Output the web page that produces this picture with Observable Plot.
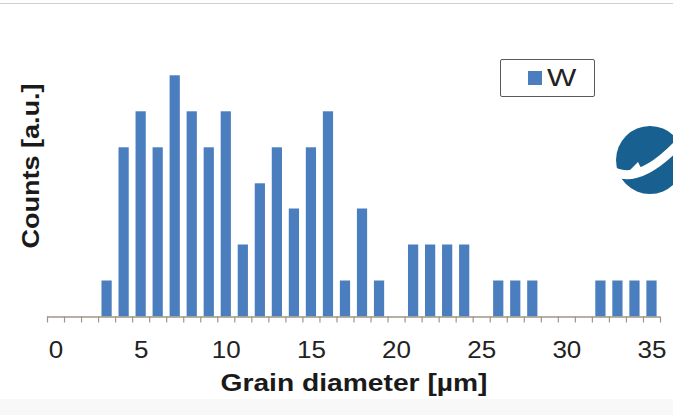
<!DOCTYPE html>
<html>
<head>
<meta charset="utf-8">
<script src="https://cdn.jsdelivr.net/npm/d3@7"></script>
<script src="https://cdn.jsdelivr.net/npm/@observablehq/plot@0.6"></script>
<style>
  html, body { margin: 0; padding: 0; background: #fff; }
  #wrap { position: relative; width: 673px; height: 415px; overflow: hidden; font-family: "Liberation Sans", Arial, sans-serif; }
  #wrap svg.plot { position: absolute; left: 0; top: 0; }
  #topline { position: absolute; left: 0; top: 3px; width: 673px; height: 1px; background: #cfcfcf; }
  #bottomband { position: absolute; left: 0; top: 399px; width: 673px; height: 16px; background: #f8f8f8; }
  #legend { position: absolute; left: 500px; top: 59px; width: 95px; height: 38px; border: 1.5px solid #5a5a5a; border-radius: 2px; background: #fff; box-sizing: border-box; }
  #legend .sw { position: absolute; left: 27px; top: 11px; width: 14px; height: 14px; background: #4a7ebf; }
  #legend .lb { position: absolute; left: 46px; top: 4px; font-size: 23px; line-height: 28px; color: #222; transform: scaleX(1.35); transform-origin: left center; }
  #logo { position: absolute; left: 600px; top: 110px; }
</style>
</head>
<body>
<div id="wrap">
  <div id="topline"></div>
  <div id="bottomband"></div>
  <div id="chart"></div>
  <div id="legend"><div class="sw"></div><div class="lb">W</div></div>
  <svg id="logo" width="73" height="100" viewBox="0 0 73 100">
    <circle cx="50" cy="50" r="34" fill="#17608f"/>
    <path d="M 8 58 Q 36 80 82 30" fill="none" stroke="#fff" stroke-width="9"/>
    <path d="M 28 62 L 38 52 L 44 64 Z" fill="#fff"/>
  </svg>
</div>
<script>
// Grain diameter categories (µm) and counts (arbitrary units)
const diameters = [3, 4, 5, 6, 7, 8, 9, 10, 11, 12, 13, 14, 15, 16, 17, 18, 19, 21, 22, 23, 24, 26, 27, 28, 32, 33, 34, 35];
const counts    = [1, 4.7, 5.7, 4.7, 6.7, 5.7, 4.7, 5.7, 2, 3.7, 4.7, 3, 4.7, 5.7, 1, 3, 1, 2, 2, 2, 2, 1, 1, 1, 1, 1, 1, 1];
const tickLabels = [0, 5, 10, 15, 20, 25, 30, 35];
const categoryMin = 0, categoryMax = 35;
const seriesName = "W";
const xTitle = "Grain diameter [µm]";
const yTitle = "Counts [a.u.]";

const data = diameters.map((d, i) => ({d, c: counts[i]}));
const boundaries = d3.range(categoryMin - 0.5, categoryMax + 1, 1);
const axisColor = "#9f9686";

const chart = Plot.plot({
  width: 673,
  height: 415,
  marginLeft: 47,
  marginRight: 13,
  marginTop: 64.5,
  marginBottom: 98.5,
  style: {fontFamily: "Liberation Sans, Arial, sans-serif", background: "transparent", overflow: "visible"},
  x: {domain: [categoryMin - 0.5, categoryMax + 0.5], axis: null},
  y: {domain: [0, 7], axis: null},
  marks: [
    Plot.rectY(data, {x1: d => d.d - 0.3, x2: d => d.d + 0.3, y1: 0, y2: "c", fill: "#4a7ebf"}),
    Plot.ruleY([0], {stroke: axisColor, strokeWidth: 1.3}),
    Plot.axisX(boundaries, {tickSize: 6, stroke: axisColor, strokeWidth: 1.2, tickFormat: () => "", tickPadding: 0}),
    Plot.axisX(tickLabels, {tickSize: 0, tickPadding: 25, fontSize: 23, fill: "#222", tickFormat: d => String(d), className: "ticklab"}),
    Plot.text([xTitle], {frameAnchor: "bottom", dy: 66.5, lineAnchor: "middle", fontSize: 23.5, fontWeight: "bold", fill: "#1a1a1a", className: "xtitle"}),
    Plot.text([yTitle], {frameAnchor: "left", dx: -16, dy: -25, rotate: -90, lineAnchor: "middle", textAnchor: "middle", fontSize: 23.5, fontWeight: "bold", fill: "#1a1a1a", className: "ytitle"})
  ]
});
chart.classList.add("plot");
document.getElementById("chart").appendChild(chart);

// The reference text is horizontally stretched; widen glyphs with textLength.
function stretch(selector, factor) {
  chart.querySelectorAll(selector).forEach(t => {
    const len = t.getComputedTextLength();
    t.setAttribute("textLength", len * factor);
    t.setAttribute("lengthAdjust", "spacingAndGlyphs");
  });
}
stretch(".ticklab text", 1.13);
stretch(".xtitle text", 1.2);
stretch(".ytitle text", 1.15);
</script>
</body>
</html>
